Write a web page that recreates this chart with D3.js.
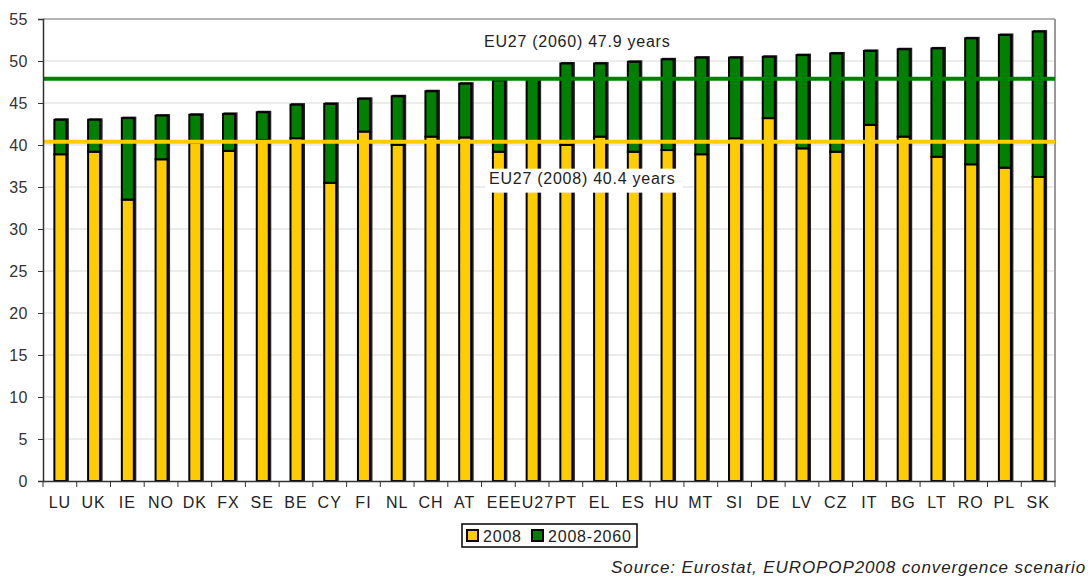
<!DOCTYPE html>
<html>
<head>
<meta charset="utf-8">
<script src="https://cdn.jsdelivr.net/npm/d3@7"></script>
<style>
  body { margin: 0; background: #fff; }
  text { font-family: "Liberation Sans", Arial, sans-serif; }
</style>
</head>
<body>
<div id="wrapper"></div>
<script>
// categories and values
const countries = ["LU","UK","IE","NO","DK","FX","SE","BE","CY","FI","NL","CH","AT","EE","EU27","PT",
  "EL","ES","HU","MT","SI","DE","LV","CZ","IT","BG","LT","RO","PL","SK"]
const age2008 = [38.9,39.2,33.5,38.3,40.3,39.3,40.6,40.8,35.5,41.6,40.0,41.0,40.9,39.2,40.4,40.0,
  41.0,39.2,39.4,38.9,40.8,43.2,39.6,39.2,42.4,41.0,38.6,37.7,37.3,36.2]
const age2060 = [43.0,43.0,43.2,43.5,43.6,43.7,43.9,44.8,44.9,45.5,45.8,46.4,47.3,47.7,47.9,49.7,
  49.7,49.9,50.2,50.4,50.4,50.5,50.7,50.9,51.2,51.4,51.5,52.7,53.1,53.5]
const yTicks = [0,5,10,15,20,25,30,35,40,45,50,55]
const seriesNames = ["2008", "2008-2060"]
const eu2008 = 40.4
const eu2060 = 47.9

const colors = { y: "#ffcc00", g: "#008000" }

const dimensions = {
  width: 1088,
  height: 576,
  margin: { top: 19, right: 33, bottom: 95, left: 43 }
}
dimensions.boundedWidth = dimensions.width - dimensions.margin.left - dimensions.margin.right
dimensions.boundedHeight = dimensions.height - dimensions.margin.top - dimensions.margin.bottom

const wrapper = d3.select("#wrapper").append("svg")
    .attr("width", dimensions.width)
    .attr("height", dimensions.height)

const bounds = wrapper.append("g")
    .attr("transform", `translate(${dimensions.margin.left},${dimensions.margin.top})`)

const xScale = d3.scaleBand()
    .domain(countries)
    .range([0, dimensions.boundedWidth])

const yScale = d3.scaleLinear()
    .domain([0, 55])
    .range([dimensions.boundedHeight, 0])

// gridlines
bounds.append("g").selectAll("line")
    .data(yTicks.slice(1))
  .enter().append("line")
    .attr("x1", 0)
    .attr("x2", dimensions.boundedWidth)
    .attr("y1", d => yScale(d))
    .attr("y2", d => yScale(d))
    .attr("stroke", d => d === 55 ? "#999" : "#d9d9d9")
    .attr("stroke-width", d => d === 55 ? 1.5 : 1)

// right border
bounds.append("line")
    .attr("x1", dimensions.boundedWidth).attr("x2", dimensions.boundedWidth)
    .attr("y1", 0).attr("y2", dimensions.boundedHeight)
    .attr("stroke", "#999").attr("stroke-width", 2)

// bars (with a thin dark shadow on the right)
const barW = 12
const barX = d => xScale(d) + xScale.bandwidth() / 2 - barW / 2 + 0.5
const bars = bounds.append("g").selectAll("g")
    .data(countries)
  .enter().append("g")

bars.append("rect")
    .attr("x", d => barX(d) + 1.5)
    .attr("width", barW)
    .attr("y", (d, i) => yScale(age2060[i]) - 0.5)
    .attr("height", (d, i) => yScale(0) - yScale(age2060[i]) + 0.5)
    .attr("fill", "#222")
    .attr("stroke", "#222")
    .attr("stroke-width", 2)

bars.append("rect")
    .attr("x", d => barX(d))
    .attr("width", barW)
    .attr("y", (d, i) => yScale(age2008[i]))
    .attr("height", (d, i) => yScale(0) - yScale(age2008[i]))
    .attr("fill", colors.y)
    .attr("stroke", "#000")
    .attr("stroke-width", 2)

bars.append("rect")
    .attr("x", d => barX(d))
    .attr("width", barW)
    .attr("y", (d, i) => yScale(age2060[i]))
    .attr("height", (d, i) => yScale(age2008[i]) - yScale(age2060[i]))
    .attr("fill", colors.g)
    .attr("stroke", "#000")
    .attr("stroke-width", 2)

// EU27 reference lines
bounds.append("line")
    .attr("x1", 0).attr("x2", dimensions.boundedWidth)
    .attr("y1", yScale(eu2060)).attr("y2", yScale(eu2060))
    .attr("stroke", colors.g).attr("stroke-width", 4)

bounds.append("line")
    .attr("x1", 0).attr("x2", dimensions.boundedWidth)
    .attr("y1", yScale(eu2008)).attr("y2", yScale(eu2008))
    .attr("stroke", colors.y).attr("stroke-width", 4)

// annotations
bounds.append("text")
    .attr("x", 441)
    .attr("y", yScale(eu2060) - 31.5)
    .attr("fill", "#222")
    .style("font-size", "16px")
    .style("letter-spacing", "0.75px")
    .text("EU27 (2060) 47.9 years")

bounds.append("rect")
    .attr("x", 442).attr("y", yScale(eu2008) + 27)
    .attr("width", 198).attr("height", 24)
    .attr("fill", "#fff")

bounds.append("text")
    .attr("x", 446)
    .attr("y", yScale(eu2008) + 42)
    .attr("fill", "#222")
    .style("font-size", "16px")
    .style("letter-spacing", "0.75px")
    .text("EU27 (2008) 40.4 years")

// y axis
const yAxis = bounds.append("g")
    .call(d3.axisLeft(yScale).tickValues(yTicks).tickSize(5).tickPadding(10))
yAxis.select(".domain").attr("stroke", "#333").attr("stroke-width", 1.5)
yAxis.selectAll(".tick line").attr("stroke", "#333")
yAxis.selectAll("text")
    .attr("fill", "#333")
    .style("font-size", "16px")
    .style("letter-spacing", "0.5px")
    .style("font-family", "Liberation Sans, Arial, sans-serif")

// x axis
const xAxis = bounds.append("g")
    .attr("transform", `translate(0,${dimensions.boundedHeight})`)
    .call(d3.axisBottom(xScale).tickSize(0).tickPadding(16))
xAxis.select(".domain").attr("stroke", "#333").attr("stroke-width", 1.5)
xAxis.selectAll("text")
    .attr("fill", "#222")
    .style("font-size", "16px")
    .style("letter-spacing", "1px")
    .style("font-family", "Liberation Sans, Arial, sans-serif")
xAxis.selectAll(".sep")
    .data(countries.concat(["end"]))
  .enter().append("line")
    .attr("x1", d => d === "end" ? dimensions.boundedWidth : xScale(d))
    .attr("x2", d => d === "end" ? dimensions.boundedWidth : xScale(d))
    .attr("y1", 0).attr("y2", 6)
    .attr("stroke", "#333")

// legend
const legend = wrapper.append("g").attr("transform", "translate(462,524)")
legend.append("rect")
    .attr("width", 175).attr("height", 23)
    .attr("fill", "#fff").attr("stroke", "#000").attr("stroke-width", 1.5)
const legendX = [5, 70]
legend.selectAll(".item")
    .data(seriesNames)
  .enter().append("g")
    .attr("transform", (d, i) => `translate(${legendX[i]},6)`)
    .each(function(d, i) {
      const g = d3.select(this)
      g.append("rect")
          .attr("width", 11).attr("height", 11)
          .attr("fill", i === 0 ? colors.y : colors.g)
          .attr("stroke", "#000").attr("stroke-width", 2)
      g.append("text")
          .attr("x", 16).attr("y", 12)
          .attr("fill", "#222")
          .style("font-size", "16px")
          .style("letter-spacing", "0.8px")
          .text(d)
    })

// source
wrapper.append("text")
    .attr("x", 1086)
    .attr("y", 573)
    .attr("text-anchor", "end")
    .attr("fill", "#222")
    .style("font-size", "17px")
    .style("letter-spacing", "0.9px")
    .style("font-style", "italic")
    .text("Source: Eurostat, EUROPOP2008 convergence scenario")
</script>
</body>
</html>
